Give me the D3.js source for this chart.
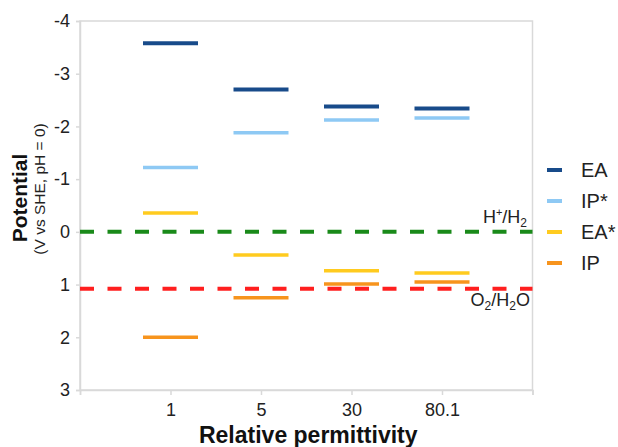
<!DOCTYPE html>
<html><head><meta charset="utf-8">
<script src="https://cdn.jsdelivr.net/npm/d3@7"></script>
<style>body{margin:0;background:#fff}svg{display:block;font-family:"Liberation Sans",Arial,sans-serif}</style>
</head><body><svg id="c" width="618" height="447"></svg>
<script>
const categories = ["1", "5", "30", "80.1"];
const seriesNames = ["EA", "IP*", "EA*", "IP"];
const EA = [-3.58, -2.70, -2.38, -2.34];
const IPstar = [-1.22, -1.88, -2.12, -2.16];
const EAstar = [-0.36, 0.44, 0.74, 0.78];
const IP = [2.00, 1.25, 0.99, 0.95];
const yTicks = [-4, -3, -2, -1, 0, 1, 2, 3];
const refLines = [{name: "H2", value: 0}, {name: "O2", value: 1.08}];
const colors = ["#184b8a", "#8ec9f4", "#ffcb1f", "#f7941d"];

const svg = d3.select("#c");
const L = 80, R = 532.5, T = 21, B = 390;
const x = d3.scaleLinear().domain([0, categories.length + 1]).range([L, R]);
const y = d3.scaleLinear().domain([-4, 3]).range([T, B]);
const grid = "#d9d9d9";

// frame
svg.append("rect").attr("x", L).attr("y", T).attr("width", R - L).attr("height", B - T)
  .attr("fill", "none").attr("stroke", grid).attr("stroke-width", 1.5);

// y axis
const ya = svg.append("g").attr("transform", `translate(${L},0)`)
  .call(d3.axisLeft(y).tickValues(yTicks).tickSize(4).tickPadding(6).tickFormat(d => String(d)));
ya.select(".domain").attr("stroke", grid).attr("stroke-width", 1.5);
ya.selectAll(".tick line").attr("stroke", grid).attr("stroke-width", 1.5);
ya.selectAll("text").attr("font-size", 18).attr("fill", "#222").attr("font-family", "Liberation Sans, Arial");

// x axis
const xa = svg.append("g").attr("transform", `translate(0,${B})`)
  .call(d3.axisBottom(x).tickValues(d3.range(0, categories.length + 2)).tickSize(5).tickPadding(8)
    .tickFormat(i => (i >= 1 && i <= categories.length) ? categories[i - 1] : ""));
xa.select(".domain").attr("stroke", grid).attr("stroke-width", 1.5);
xa.selectAll(".tick line").attr("stroke", grid).attr("stroke-width", 1.5);
xa.selectAll("text").attr("font-size", 18).attr("fill", "#222").attr("font-family", "Liberation Sans, Arial");

// reference lines
const refColors = ["#1a8a1a", "#ff1f1f"];
refLines.forEach((r, i) => {
  svg.append("line").attr("x1", L).attr("x2", R).attr("y1", y(r.value)).attr("y2", y(r.value))
    .attr("stroke", refColors[i]).attr("stroke-width", 4).attr("stroke-dasharray", "14,13.5");
});

// levels
const series = [EA, IPstar, EAstar, IP];
const widths = [4, 3.5, 3.5, 3.5];
const halfW = 27.5;
series.forEach((vals, si) => {
  svg.append("g").selectAll("line").data(vals).join("line")
    .attr("x1", (d, i) => x(i + 1) - halfW).attr("x2", (d, i) => x(i + 1) + halfW)
    .attr("y1", d => y(d)).attr("y2", d => y(d))
    .attr("stroke", colors[si]).attr("stroke-width", widths[si]);
});

// annotations
const h = svg.append("text").attr("x", 527).attr("y", 223).attr("text-anchor", "end")
  .attr("font-size", 18).attr("fill", "#222");
h.append("tspan").text("H");
h.append("tspan").attr("font-size", 11).attr("dy", -7).text("+");
h.append("tspan").attr("dy", 7).text("/H");
h.append("tspan").attr("font-size", 12).attr("dy", 4).text("2");

const o = svg.append("text").attr("x", 530).attr("y", 306).attr("text-anchor", "end")
  .attr("font-size", 18).attr("fill", "#222");
o.append("tspan").text("O");
o.append("tspan").attr("font-size", 12).attr("dy", 4).text("2");
o.append("tspan").attr("dy", -4).text("/H");
o.append("tspan").attr("font-size", 12).attr("dy", 4).text("2");
o.append("tspan").attr("dy", -4).text("O");

// axis titles
svg.append("text").attr("x", (L + R) / 2 + 2).attr("y", 443).attr("text-anchor", "middle")
  .attr("font-size", 23).attr("font-weight", "bold").attr("fill", "#111").text("Relative permittivity");
svg.append("text").attr("transform", "translate(27,198) rotate(-90)").attr("text-anchor", "middle")
  .attr("font-size", 21).attr("font-weight", "bold").attr("fill", "#111").text("Potential");
svg.append("text").attr("transform", "translate(45,189) rotate(-90)").attr("text-anchor", "middle")
  .attr("font-size", 15.5).attr("fill", "#222").text("(V vs SHE, pH = 0)");

// legend
const lg = svg.append("g");
seriesNames.forEach((n, i) => {
  const ly = 170 + i * 31;
  lg.append("line").attr("x1", 547).attr("x2", 562).attr("y1", ly).attr("y2", ly)
    .attr("stroke", colors[i]).attr("stroke-width", 4);
  lg.append("text").attr("x", 581).attr("y", ly).attr("dy", "0.35em")
    .attr("font-size", 20).attr("fill", "#222").text(n);
});
</script></body></html>
